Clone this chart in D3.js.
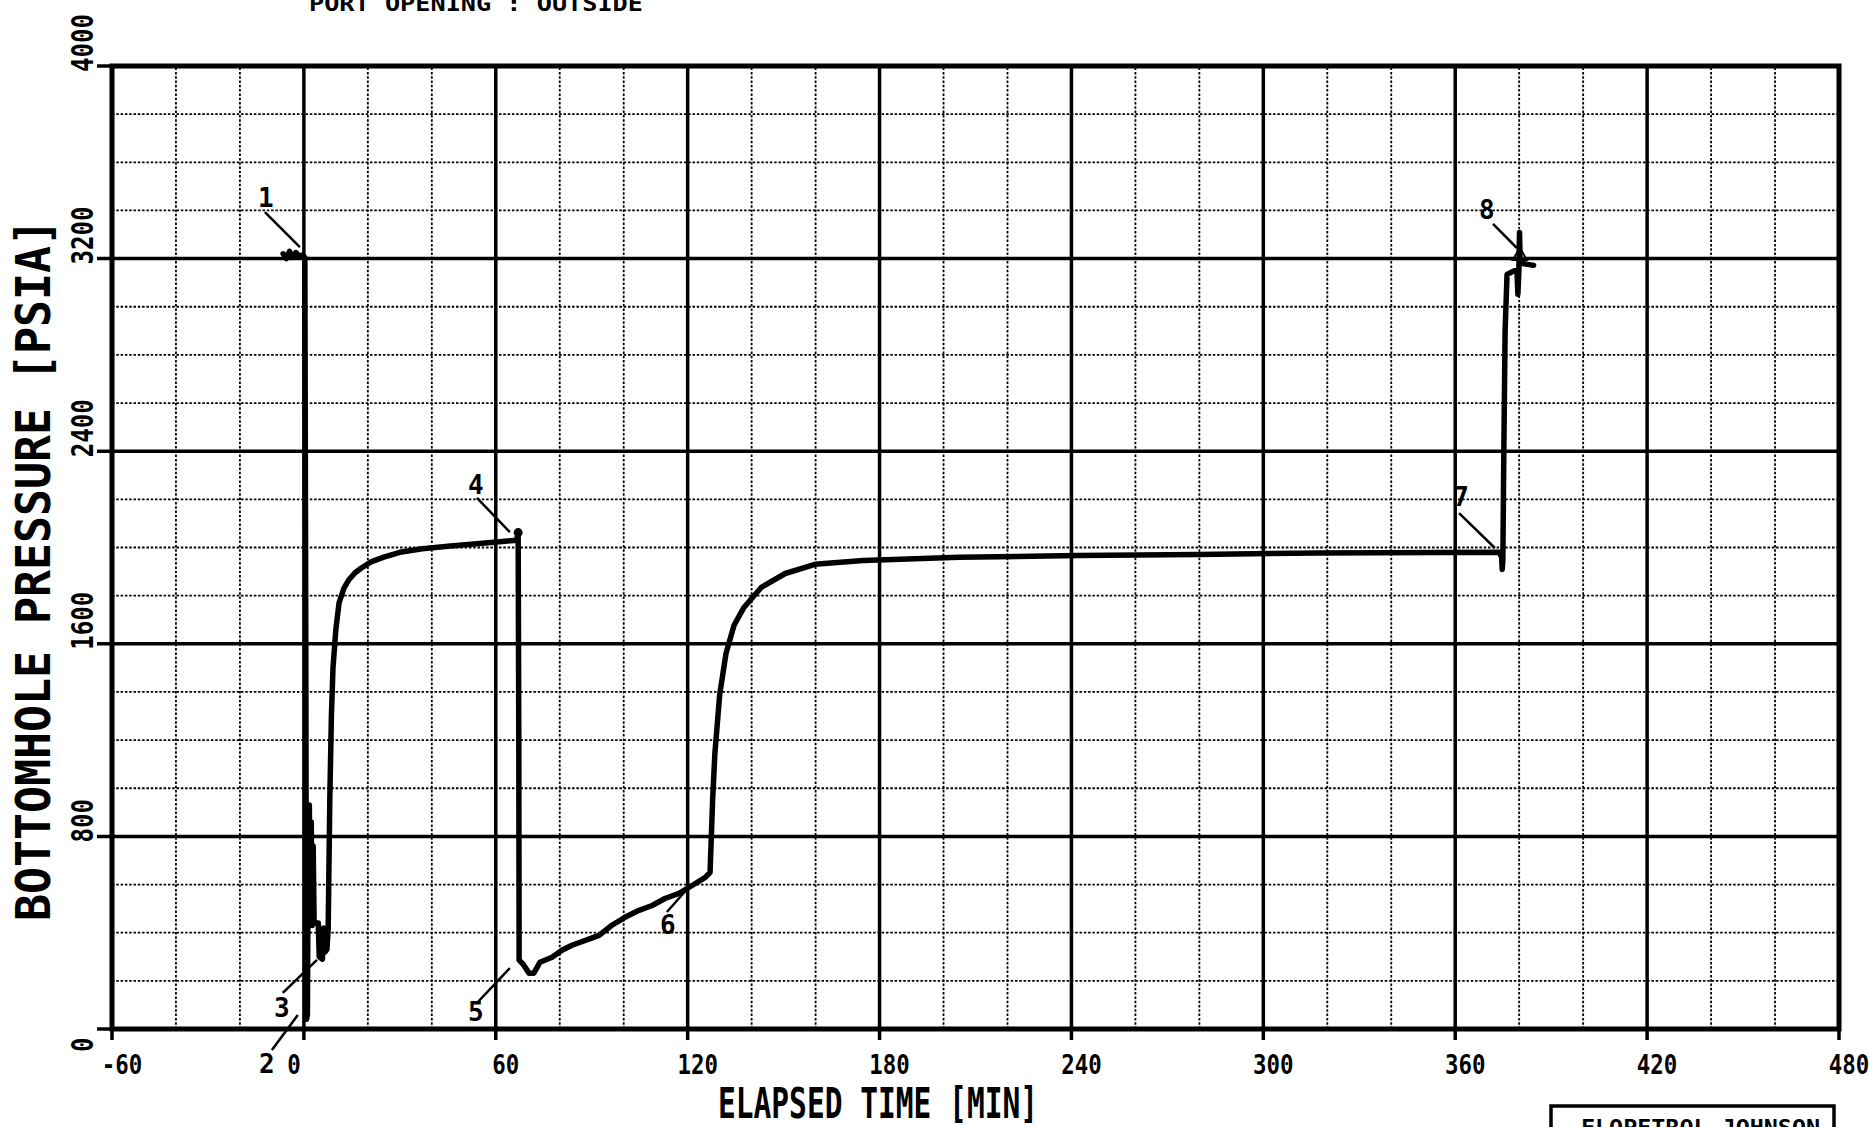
<!DOCTYPE html>
<html>
<head>
<meta charset="utf-8">
<script src="https://d3js.org/d3.v7.min.js"></script>
<style>
  body { margin: 0; background: #fff; }
  text { font-family: "DejaVu Sans Mono", "Liberation Mono", monospace; fill: #000; }
</style>
</head>
<body>
<svg id="chart" width="1875" height="1127"></svg>
<script>
// bottomhole pressure record
let timeMin = [
  -6.5, -5.5, -4.5, -3.5, -2.5, -1.5, -0.5, 0.3, 0.6, 0.8, 1.1, 1.4, 1.7, 2.0, 2.3, 2.6, 2.9, 3.2,
  4.5, 4.8, 5.8, 6.2, 6.6, 7.2, 7.6, 8.1, 8.6, 9.1, 10, 11, 12.5, 14, 16, 18, 21, 25, 30, 37, 45,
  55, 62, 66.5, 67.0, 67.2, 67.3, 68.5, 70.4, 71.9, 73.8, 77.6, 80.7, 83.8, 89.1, 92.3, 96.3,
  100.4, 104.8, 108.9, 112.9, 117.3, 121.4, 125.5, 127.0, 127.4, 127.8, 128.5, 130, 132, 134.5,
  137.6, 143, 150.5, 159.8, 174.9, 204.9, 242, 279.6, 317, 354.4, 373.8, 374.5, 374.7, 374.9,
  375.2, 375.6, 376.2, 378.5, 379.3, 379.6, 379.9, 380.1, 380.3, 381, 384.5
];
let pressurePsia = [
  3220, 3200, 3230, 3205, 3225, 3210, 3215, 3205, 1600, 40, 60, 880, 930, 500, 860, 430, 760, 440,
  440, 300, 290, 420, 320, 330, 420, 950, 1300, 1500, 1660, 1770, 1830, 1865, 1895, 1915, 1940, 1960, 1980, 1995, 2005,
  2017, 2025, 2030, 2062, 1200, 286, 270, 232, 232, 277, 298, 327, 348, 373, 389, 431,
  464, 493, 513, 542, 563, 596, 630, 650, 800, 950, 1143, 1387, 1561, 1677,
  1751, 1834, 1892, 1930, 1946, 1959, 1967, 1971, 1977, 1979, 1980, 1960, 1909, 1950,
  2400, 2900, 3134, 3150, 3150, 3052, 3150, 3308, 3190, 3180, 3172
];

let xTickValues = [-60, 0, 60, 120, 180, 240, 300, 360, 420, 480];
let yTickValues = [0, 800, 1600, 2400, 3200, 4000];

// numbered events on the trace: label position and leader line, in data units
let eventNames = ["1", "2", "3", "4", "5", "6", "7", "8"];
let eventLabelTime = [-11.9, -11.6, -6.9, 53.8, 53.8, 113.8, 361.8, 369.9];
let eventLabelPressure = [3452, -145, 87, 2260, 71, 432, 2210, 3402];
let leaderFromTime = [-12.2, -10.0, -6.6, 54.1, 54.1, 113.5, 361.2, 371.8];
let leaderFromPressure = [3393, -87, 150, 2206, 108, 486, 2143, 3344];
let leaderToTime = [-1.25, -1.9, 4.1, 64.4, 64.4, 120.7, 372.4, 379.3];
let leaderToPressure = [3248, 58, 287, 2064, 253, 594, 1998, 3244];

let svg = d3.select("#chart");
svg.append("rect").attr("width", 1875).attr("height", 1127).style("fill", "#fff");

let x = d3.scaleLinear().domain([-60, 480]).range([112, 1839]);
let y = d3.scaleLinear().domain([0, 4000]).range([1029, 66]);

// dotted minor grid every 20 min / 200 psia
let grid = svg.append("g");
grid.selectAll(".vminor")
  .data(d3.range(-60, 481, 20).filter(function (d) { return d % 60 !== 0; }))
  .enter().append("line")
  .attr("x1", function (d) { return x(d); })
  .attr("x2", function (d) { return x(d); })
  .attr("y1", y(0))
  .attr("y2", y(4000));
grid.selectAll(".hminor")
  .data(d3.range(0, 4001, 200).filter(function (d) { return d % 800 !== 0; }))
  .enter().append("line")
  .attr("x1", x(-60))
  .attr("x2", x(480))
  .attr("y1", function (d) { return y(d); })
  .attr("y2", function (d) { return y(d); });
grid.selectAll("line")
  .style("stroke", "#000")
  .style("stroke-width", 1.8)
  .style("stroke-dasharray", "2.5,1.8");

// solid major grid, poking out of the frame as ticks
let major = svg.append("g");
major.selectAll(".vmajor").data(xTickValues)
  .enter().append("line")
  .attr("x1", function (d) { return x(d); })
  .attr("x2", function (d) { return x(d); })
  .attr("y1", y(0) + 11)
  .attr("y2", y(4000));
major.selectAll(".hmajor").data(yTickValues)
  .enter().append("line")
  .attr("x1", x(-60) - 15)
  .attr("x2", x(480))
  .attr("y1", function (d) { return y(d); })
  .attr("y2", function (d) { return y(d); });
major.selectAll("line")
  .style("stroke", "#000")
  .style("stroke-width", 3.5);

svg.append("rect")
  .attr("x", x(-60))
  .attr("y", y(4000))
  .attr("width", x(480) - x(-60))
  .attr("height", y(0) - y(4000))
  .style("fill", "none")
  .style("stroke", "#000")
  .style("stroke-width", 5);

// tick labels
svg.append("g").selectAll("text").data(xTickValues)
  .enter().append("text")
  .attr("x", function (d) { return x(d) + (d === 0 ? -10 : 10); })
  .attr("y", 1074)
  .attr("text-anchor", "middle")
  .attr("textLength", function (d) { return String(d).length * 13.5; })
  .attr("lengthAdjust", "spacingAndGlyphs")
  .style("font-size", "27px")
  .style("font-weight", "bold")
  .text(function (d) { return d; });

svg.append("g").selectAll("text").data(yTickValues)
  .enter().append("text")
  .attr("transform", function (d)
  {
    return "translate(93," + (y(d) + (d === 0 ? 23 : 6)) + ") rotate(-90)";
  })
  .attr("text-anchor", "start")
  .attr("textLength", function (d) { return String(d).length * 14.5; })
  .attr("lengthAdjust", "spacingAndGlyphs")
  .style("font-size", "30px")
  .style("font-weight", "bold")
  .text(function (d) { return d; });

// axis titles
svg.append("text")
  .attr("transform", "translate(50,570) rotate(-90)")
  .attr("text-anchor", "middle")
  .attr("textLength", 702)
  .attr("lengthAdjust", "spacingAndGlyphs")
  .style("font-size", "48px")
  .style("font-weight", "bold")
  .text("BOTTOMHOLE PRESSURE [PSIA]");

svg.append("text")
  .attr("x", 878)
  .attr("y", 1118)
  .attr("text-anchor", "middle")
  .attr("textLength", 320)
  .attr("lengthAdjust", "spacingAndGlyphs")
  .style("font-size", "42px")
  .style("font-weight", "bold")
  .text("ELAPSED TIME [MIN]");

svg.append("text")
  .attr("x", 309)
  .attr("y", 11)
  .attr("textLength", 334)
  .attr("lengthAdjust", "spacingAndGlyphs")
  .style("font-size", "22px")
  .style("font-weight", "bold")
  .text("PORT OPENING : OUTSIDE");

// the pressure trace
let trace = d3.line()
  .x(function (d, i) { return x(timeMin[i]); })
  .y(function (d, i) { return y(pressurePsia[i]); });

svg.append("path")
  .attr("d", trace(timeMin))
  .style("fill", "none")
  .style("stroke", "#000")
  .style("stroke-width", 5.5)
  .style("stroke-linejoin", "round")
  .style("stroke-linecap", "round");

// event markers: dot at 4, small open triangle at 8
svg.append("circle")
  .attr("cx", x(67.0))
  .attr("cy", y(2062))
  .attr("r", 4.5)
  .style("fill", "#000");
svg.append("path")
  .attr("d", d3.symbol().type(d3.symbolTriangle).size(90)())
  .attr("transform", "translate(" + x(380.2) + "," + y(3211) + ")")
  .style("fill", "none")
  .style("stroke", "#000")
  .style("stroke-width", 1.8);

// numbered leaders
let events = svg.append("g");
eventNames.forEach(function (name, i)
{
  events.append("line")
    .attr("x1", x(leaderFromTime[i]))
    .attr("y1", y(leaderFromPressure[i]))
    .attr("x2", x(leaderToTime[i]))
    .attr("y2", y(leaderToPressure[i]))
    .style("stroke", "#000")
    .style("stroke-width", 2.5);
  events.append("text")
    .attr("x", x(eventLabelTime[i]))
    .attr("y", y(eventLabelPressure[i]))
    .attr("dy", "0.36em")
    .attr("text-anchor", "middle")
    .style("font-size", "26px")
    .style("font-weight", "bold")
    .text(name);
});

// company stamp, cut by the lower edge of the sheet
svg.append("rect")
  .attr("x", 1551)
  .attr("y", 1106)
  .attr("width", 283)
  .attr("height", 50)
  .style("fill", "none")
  .style("stroke", "#000")
  .style("stroke-width", 3.5);
svg.append("text")
  .attr("x", 1581)
  .attr("y", 1135)
  .attr("textLength", 239)
  .attr("lengthAdjust", "spacingAndGlyphs")
  .style("font-size", "22px")
  .style("font-weight", "bold")
  .text("FLOPETROL JOHNSON");
</script>
</body>
</html>
